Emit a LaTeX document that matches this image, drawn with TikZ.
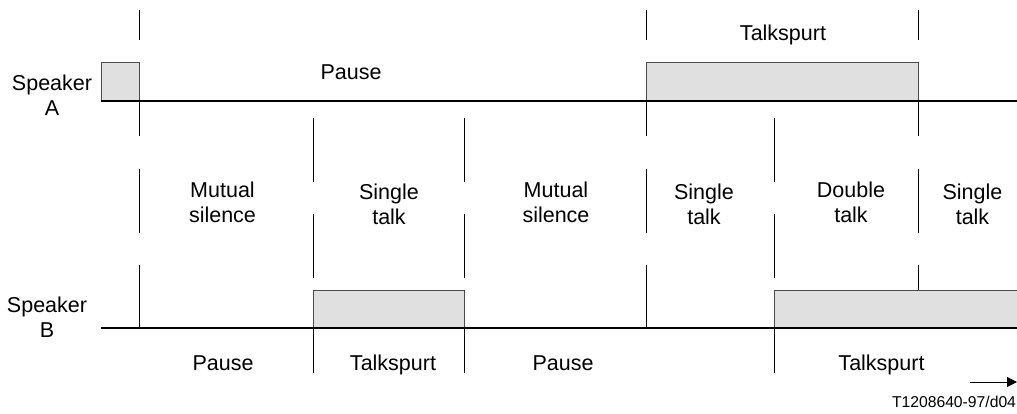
\documentclass[tikz,border=0pt]{standalone}
\usepackage{fontspec}
\setmainfont{Liberation Sans}
\usetikzlibrary{arrows.meta}
\begin{document}
\begin{tikzpicture}[x=1pt,y=-1pt,
  lbl/.style={font=\fontsize{21.5}{25}\selectfont, align=center, inner sep=0pt, anchor=base},
  codelbl/.style={font=\fontsize{15.7}{18}\selectfont, inner sep=0pt, anchor=base},
  axisline/.style={line width=2pt, black},
  divider/.style={line width=1pt, black},
  burst/.style={draw=black!70, line width=1pt, fill=black!12, inner sep=0pt},
]
\useasboundingbox (0,0) rectangle (1017,414);

% talkspurt boxes
\node[burst, minimum width=38pt, minimum height=38pt] (a1) at (120,82) {};
\node[burst, minimum width=272pt, minimum height=38pt] (a2) at (782,82) {};
\node[burst, minimum width=151pt, minimum height=38pt] (b1) at (388.5,309) {};
\fill[black!12] (774,290) rectangle (1017,328);
\draw[black!70, line width=1pt] (774,328) -- (774,290) -- (1017,290);

% time axes
\draw[axisline] (101,101) -- (1017,101);
\draw[axisline] (101,328) -- (1017,328);

% dividers
\foreach \x in {139,646} {
  \draw[divider] (\x,10) -- (\x,40);
  \draw[divider] (\x,101) -- (\x,136);
  \draw[divider] (\x,169) -- (\x,233);
  \draw[divider] (\x,265) -- (\x,328);
}
\draw[divider] (918,10) -- (918,40);
\draw[divider] (918,101) -- (918,136);
\draw[divider] (918,169) -- (918,233);
\draw[divider] (918,265) -- (918,290);
\foreach \x in {313,464,774} {
  \draw[divider] (\x,118) -- (\x,182);
  \draw[divider] (\x,214) -- (\x,278);
  \draw[divider] (\x,328) -- (\x,373);
}

% labels (base anchor = baseline of the last line)
\node[lbl] (spa) at (52,115.5) {Speaker\\A};
\node[lbl] (spb) at (47,337.5) {Speaker\\B};
\node[lbl] (pa) at (351,79.5) {Pause};
\node[lbl] (ta) at (783,40.5) {Talkspurt};
\node[lbl] (m1) at (222.5,222.5) {Mutual\\silence};
\node[lbl] (s1) at (389,224.5) {Single\\talk};
\node[lbl] (m2) at (556,222.5) {Mutual\\silence};
\node[lbl] (s2) at (704,224.5) {Single\\talk};
\node[lbl] (d1) at (851,222.5) {Double\\talk};
\node[lbl] (s3) at (972.5,224.5) {Single\\talk};
\node[lbl] (pb1) at (223,370) {Pause};
\node[lbl] (tb1) at (393,370) {Talkspurt};
\node[lbl] (pb2) at (563,370) {Pause};
\node[lbl] (tb2) at (881.5,370) {Talkspurt};
\node[codelbl] (code) at (954,407.5) {T1208640-97/d04};

% time arrow
\coordinate (t0) at (970,382);
\coordinate (t1) at (1017,382);
\draw[line width=1pt, -{Triangle[length=10pt,width=10pt]}] (t0) -- (t1);
\end{tikzpicture}
\end{document}
